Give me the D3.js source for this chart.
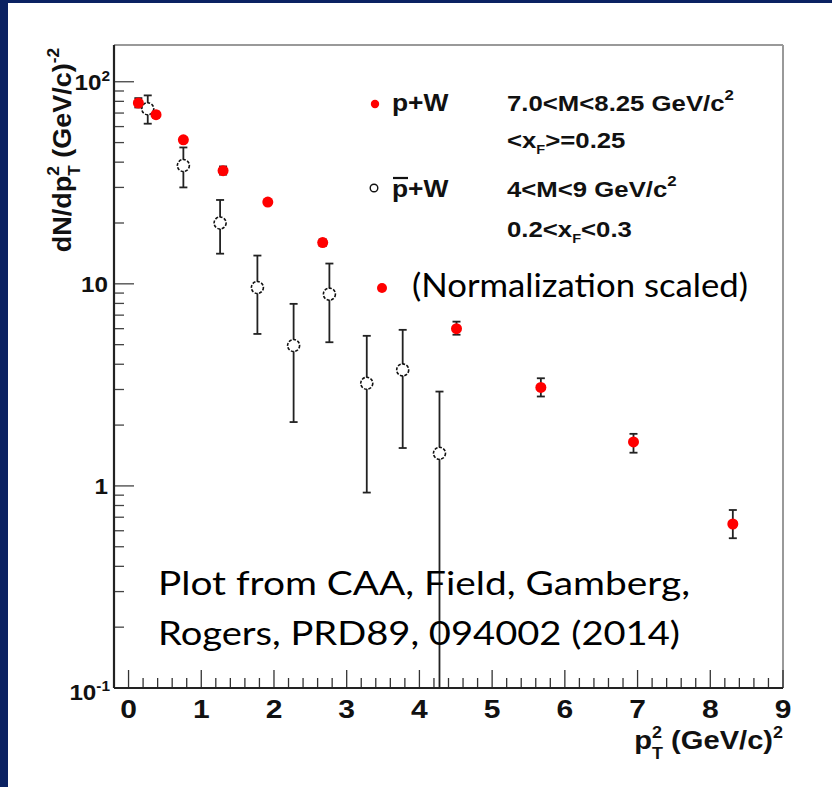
<!DOCTYPE html>
<html lang="en">
<head>
<meta charset="utf-8">
<script src="https://d3js.org/d3.v7.min.js"></script>
<style type="text/css">
body {
	margin: 0;
	background-color: #ffffff;
}
.root text {
	font-family: "Liberation Sans", Arial, sans-serif;
	font-weight: bold;
	fill: #111;
}
.note {
	font-family: Lato, "Open Sans", sans-serif;
	fill: #000;
}
</style>
</head>
<body>
<div id="chart"></div>
<script type="text/javascript">

// p+W (red, filled)
var pwX  = [0.135, 0.378, 0.754, 1.30, 1.915, 2.67, 4.51, 5.67, 6.944, 8.31];
var pwY  = [78.5, 68.7, 51.6, 36.3, 25.4, 16.0, 6.0, 3.07, 1.65, 0.648];
var pwHi = [83.0, 71.0, 53.0, 38.1, 26.0, 16.6, 6.5, 3.41, 1.81, 0.76];
var pwLo = [74.6, 66.5, 50.2, 34.7, 24.8, 15.4, 5.6, 2.77, 1.46, 0.551];

// pbar+W (open circles)
var pbX  = [0.264, 0.754, 1.259, 1.772, 2.27, 2.762, 3.276, 3.77, 4.276];
var pbY  = [73.5, 38.5, 20.0, 9.59, 4.95, 8.89, 3.22, 3.75, 1.45];
var pbHi = [85.6, 47.3, 26.0, 13.8, 7.96, 12.6, 5.53, 5.92, 2.93];
var pbLo = [62.0, 30.0, 14.1, 5.65, 2.07, 5.14, 0.927, 1.54, 0.05];

var xTicks = [0, 1, 2, 3, 4, 5, 6, 7, 8, 9];
var yDecades = [0.1, 1, 10, 100];
var yTickLabels = [["10", "-1"], ["1", ""], ["10", ""], ["10", "2"]];

var width = 832, height = 787;
var pLeft = 114, pRight = 783, pTop = 45, pBottom = 688;

var x = d3.scaleLinear().domain([-0.2, 9]).range([pLeft, pRight]);
var y = d3.scaleLog().domain([0.1, 152]).range([pBottom, pTop]);

var svg = d3.select("#chart").append("svg")
	.attr("width", width)
	.attr("height", height);

svg.append("rect").attr("width", width).attr("height", height).attr("fill", "#fff");
// slide frame
svg.append("rect").attr("x", 0).attr("y", 0).attr("width", 8).attr("height", height).attr("fill", "#0b2262");
svg.append("rect").attr("x", 0).attr("y", 0).attr("width", width).attr("height", 3).attr("fill", "#0b2262");

var root = svg.append("g").attr("class", "root");

// helper: text built from pieces (sup / sub / stacked)
function rich(parent, px, py, parts, size, anchor, sx) {
	sx = sx || 1;
	var g = parent.append("g");
	var cx = 0, hold = 0;
	parts.forEach(function(p) {
		var t = g.append("text")
			.attr("x", cx / sx)
			.attr("y", p.dy || 0)
			.attr("transform", "scale(" + sx + ",1)")
			.style("font-size", (p.size || size) + "px")
			.text(p.t);
		var w = t.node().getComputedTextLength() * sx;
		if (p.keep) { hold = Math.max(hold, w); }
		else { cx += Math.max(w, hold); hold = 0; }
	});
	var shift = anchor === "end" ? -cx : (anchor === "middle" ? -cx / 2 : 0);
	g.attr("transform", "translate(" + (px + shift) + "," + py + ")");
	return g;
}

// frame
root.append("line").attr("x1", pLeft).attr("x2", pRight).attr("y1", pTop).attr("y2", pTop)
	.attr("stroke", "#999").attr("stroke-width", 2);
root.append("line").attr("x1", pRight).attr("x2", pRight).attr("y1", pTop).attr("y2", pBottom)
	.attr("stroke", "#999").attr("stroke-width", 2);

// x ticks
var xMinor = d3.range(0, 45).map(function(i) { return i * 0.2; }).filter(function(v) { return Math.abs(v - Math.round(v)) > 0.01; });
root.selectAll(".xminor").data(xMinor).enter().append("line")
	.attr("x1", function(d) { return x(d); }).attr("x2", function(d) { return x(d); })
	.attr("y1", pBottom).attr("y2", pBottom - 10)
	.attr("stroke", "#333").attr("stroke-width", 1.3);
root.selectAll(".xmajor").data(xTicks).enter().append("line")
	.attr("x1", function(d) { return x(d); }).attr("x2", function(d) { return x(d); })
	.attr("y1", pBottom).attr("y2", pBottom - 18)
	.attr("stroke", "#333").attr("stroke-width", 1.3);
xTicks.forEach(function(v) {
	rich(root, x(v), 718, [{t: String(v)}], 25, "middle", 1.2);
});

// y ticks
var yMinor = [];
yDecades.forEach(function(dec) {
	for (var k = 2; k <= 9; k++) { if (dec * k < 152) yMinor.push(dec * k); }
});
root.selectAll(".yminor").data(yMinor).enter().append("line")
	.attr("x1", pLeft).attr("x2", pLeft + 10)
	.attr("y1", function(d) { return y(d); }).attr("y2", function(d) { return y(d); })
	.attr("stroke", "#444").attr("stroke-width", 1.3);
root.selectAll(".ymajor").data(yDecades).enter().append("line")
	.attr("x1", pLeft).attr("x2", pLeft + 20)
	.attr("y1", function(d) { return y(d); }).attr("y2", function(d) { return y(d); })
	.attr("stroke", "#444").attr("stroke-width", 1.3);
yDecades.forEach(function(v, i) {
	var lab = yTickLabels[i];
	var by = v === 0.1 ? pBottom + 12 : y(v) + 8;
	var parts = [{t: lab[0]}];
	if (lab[1]) parts.push({t: lab[1], size: 14, dy: -9});
	rich(root, lab[1] ? 110 : 108, by, parts, 22, "end", 1.1);
});

// axis lines
root.append("line").attr("x1", pLeft).attr("x2", pLeft).attr("y1", pTop).attr("y2", pBottom)
	.attr("stroke", "#222").attr("stroke-width", 2.2);
root.append("line").attr("x1", pLeft).attr("x2", pRight).attr("y1", pBottom).attr("y2", pBottom)
	.attr("stroke", "#222").attr("stroke-width", 2.2);

// axis titles
rich(root, pRight, 749, [
	{t: "p"}, {t: "2", size: 16, dy: -11, keep: true}, {t: "T", size: 16, dy: 10},
	{t: "\u00a0(GeV/c)"}, {t: "2", size: 16, dy: -11}
], 26, "end", 1.12);

var yl = root.append("g").attr("transform", "translate(71,48) rotate(-90)");
rich(yl, 0, 0, [
	{t: "dN/dp"}, {t: "2", size: 16, dy: -12, keep: true}, {t: "T", size: 16, dy: 9},
	{t: "\u00a0(GeV/c)"}, {t: "-2", size: 16, dy: -12}
], 25, "end", 1.08);

// data
svg.append("clipPath").attr("id", "plotclip").append("rect")
	.attr("x", pLeft).attr("y", pTop).attr("width", pRight - pLeft).attr("height", pBottom - pTop);
var plot = svg.append("g").attr("clip-path", "url(#plotclip)");

function errorBars(g, xs, lo, hi, color) {
	var cap = 4;
	g.selectAll(null).data(xs).enter().append("line")
		.attr("x1", function(d) { return x(d); }).attr("x2", function(d) { return x(d); })
		.attr("y1", function(d, i) { return y(hi[i]); }).attr("y2", function(d, i) { return y(lo[i]); })
		.attr("stroke", color).attr("stroke-width", 1.8);
	[hi, lo].forEach(function(arr) {
		g.selectAll(null).data(xs).enter().append("line")
			.attr("x1", function(d) { return x(d) - cap; }).attr("x2", function(d) { return x(d) + cap; })
			.attr("y1", function(d, i) { return y(arr[i]); }).attr("y2", function(d, i) { return y(arr[i]); })
			.attr("stroke", color).attr("stroke-width", 1.8);
	});
}

errorBars(plot, pbX, pbLo, pbHi, "#222");
plot.selectAll(".pb").data(pbX).enter().append("circle")
	.attr("cx", function(d) { return x(d); })
	.attr("cy", function(d, i) { return y(pbY[i]); })
	.attr("r", 6)
	.attr("fill", "#fff")
	.attr("stroke", "#111")
	.attr("stroke-width", 1.6)
	.attr("stroke-dasharray", "3,1.5");

errorBars(plot, pwX, pwLo, pwHi, "#222");
plot.selectAll(".pw").data(pwX).enter().append("circle")
	.attr("cx", function(d) { return x(d); })
	.attr("cy", function(d, i) { return y(pwY[i]); })
	.attr("r", 5.5)
	.attr("fill", "#f00");

// legend
root.append("circle").attr("cx", 375).attr("cy", 104).attr("r", 4.2).attr("fill", "#f00");
rich(root, 392, 111, [{t: "p+W"}], 24, "start", 1.1);
rich(root, 507, 111, [{t: "7.0<M<8.25 GeV/c"}, {t: "2", size: 15, dy: -11}], 23, "start", 1.12);
rich(root, 507, 148, [{t: "<x"}, {t: "F", size: 13, dy: 6}, {t: ">=0.25"}], 23, "start", 1.12);

root.append("circle").attr("cx", 374).attr("cy", 188).attr("r", 3.8)
	.attr("fill", "#fff").attr("stroke", "#111").attr("stroke-width", 1.4);
rich(root, 392, 197, [{t: "p+W"}], 24, "start", 1.1);
root.append("line").attr("x1", 393).attr("x2", 408).attr("y1", 178).attr("y2", 178)
	.attr("stroke", "#111").attr("stroke-width", 2.2);
rich(root, 507, 197, [{t: "4<M<9 GeV/c"}, {t: "2", size: 15, dy: -11}], 23, "start", 1.12);
rich(root, 507, 237, [{t: "0.2<x"}, {t: "F", size: 13, dy: 6}, {t: "<0.3"}], 23, "start", 1.12);

// slide annotations
svg.append("circle").attr("cx", 382).attr("cy", 288).attr("r", 5).attr("fill", "#f00");
svg.append("text").attr("class", "note")
	.attr("x", 412).attr("y", 297)
	.attr("textLength", 336).attr("lengthAdjust", "spacingAndGlyphs")
	.style("font-size", "32px")
	.text("(Normalization scaled)");
svg.append("text").attr("class", "note")
	.attr("x", 158).attr("y", 595)
	.attr("textLength", 532).attr("lengthAdjust", "spacingAndGlyphs")
	.style("font-size", "33px")
	.text("Plot from CAA, Field, Gamberg,");
svg.append("text").attr("class", "note")
	.attr("x", 158).attr("y", 645)
	.attr("textLength", 522).attr("lengthAdjust", "spacingAndGlyphs")
	.style("font-size", "33px")
	.text("Rogers, PRD89, 094002 (2014)");

</script>
</body>
</html>
